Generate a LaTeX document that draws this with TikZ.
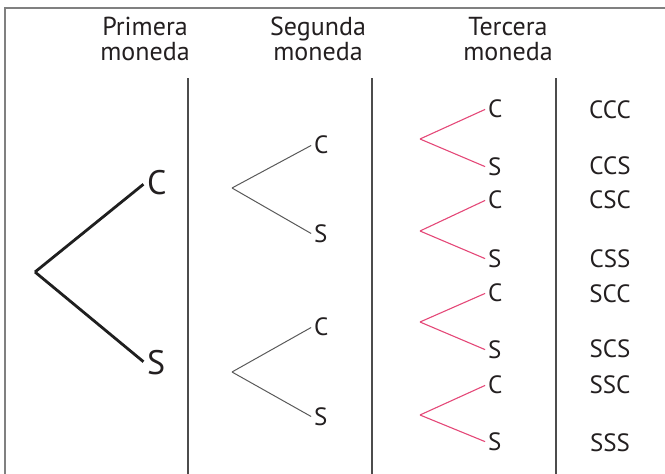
\documentclass[tikz,border=0pt]{standalone}
\usepackage{fontspec}
\setmainfont{PT Sans}
\definecolor{pinkline}{RGB}{228,72,120}
\definecolor{txt}{RGB}{35,31,32}
\begin{document}
\begin{tikzpicture}[x=1pt,y=-1pt,
  frame/.style={draw=black!50,line width=2pt},
  divider/.style={draw=black!70,line width=1.4pt},
  title/.style={font=\fontsize{26}{25}\selectfont,text=txt,align=center,inner sep=0pt},
  lvlone/.style={font=\fontsize{34}{36}\selectfont,text=txt,inner sep=2pt,anchor=west},
  lvltwo/.style={font=\fontsize{25}{27}\selectfont,text=txt,inner sep=2pt,anchor=west},
  lvlthree/.style={font=\fontsize{25}{27}\selectfont,text=txt,inner sep=2pt,anchor=west},
  result/.style={font=\fontsize{25}{27}\selectfont,text=txt,inner sep=0pt},
  bone/.style={draw=black!88,line width=2.8pt,shorten >=2pt},
  btwo/.style={draw=black!65,line width=1pt,shorten >=1pt},
  bthree/.style={draw=pinkline,line width=1.1pt,shorten >=1pt}]
\useasboundingbox (0,0) rectangle (665,474);
% frame (only left and top edges visible)
\draw[frame] (5,490) rectangle (690,8);
% titles
\node[title] (h1) at (145,39) {Primera\\moneda};
\node[title] (h2) at (318,39) {Segunda\\moneda};
\node[title] (h3) at (508,39) {Tercera\\moneda};
% dividers
\coordinate (v1t) at (188,78); \coordinate (v1b) at (188,474);
\coordinate (v2t) at (372,78); \coordinate (v2b) at (372,474);
\coordinate (v3t) at (556,78); \coordinate (v3b) at (556,474);
\draw[divider] (v1t) -- (v1b);
\draw[divider] (v2t) -- (v2b);
\draw[divider] (v3t) -- (v3b);
% first coin
\coordinate (r1) at (35,272);
\node[lvlone] (c1) at (145,183) {C};
\node[lvlone] (s1) at (145,363) {S};
\draw[bone] (r1) -- (c1.west);
\draw[bone] (r1) -- (s1.west);
% second coin
\coordinate (r2a) at (232,188);
\node[lvltwo] (c2a) at (312,145) {C};
\node[lvltwo] (s2a) at (312,234) {S};
\draw[btwo] (r2a) -- (c2a.west);
\draw[btwo] (r2a) -- (s2a.west);
\coordinate (r2b) at (232,372);
\node[lvltwo] (c2b) at (312,327) {C};
\node[lvltwo] (s2b) at (312,417) {S};
\draw[btwo] (r2b) -- (c2b.west);
\draw[btwo] (r2b) -- (s2b.west);
% third coin
\coordinate (r3a) at (420,139);
\node[lvlthree] (c3a) at (486,109) {C};
\node[lvlthree] (s3a) at (486,167) {S};
\draw[bthree] (r3a) -- (c3a.west);
\draw[bthree] (r3a) -- (s3a.west);
\coordinate (r3b) at (420,231);
\node[lvlthree] (c3b) at (486,200) {C};
\node[lvlthree] (s3b) at (486,259) {S};
\draw[bthree] (r3b) -- (c3b.west);
\draw[bthree] (r3b) -- (s3b.west);
\coordinate (r3c) at (420,322);
\node[lvlthree] (c3c) at (486,293) {C};
\node[lvlthree] (s3c) at (486,350) {S};
\draw[bthree] (r3c) -- (c3c.west);
\draw[bthree] (r3c) -- (s3c.west);
\coordinate (r3d) at (420,415);
\node[lvlthree] (c3d) at (486,385) {C};
\node[lvlthree] (s3d) at (486,442) {S};
\draw[bthree] (r3d) -- (c3d.west);
\draw[bthree] (r3d) -- (s3d.west);
% results
\node[result] (o1) at (610,110) {CCC};
\node[result] (o2) at (610,166) {CCS};
\node[result] (o3) at (610,200) {CSC};
\node[result] (o4) at (610,259) {CSS};
\node[result] (o5) at (610,294) {SCC};
\node[result] (o6) at (610,349) {SCS};
\node[result] (o7) at (610,385) {SSC};
\node[result] (o8) at (610,443) {SSS};
\end{tikzpicture}
\end{document}
